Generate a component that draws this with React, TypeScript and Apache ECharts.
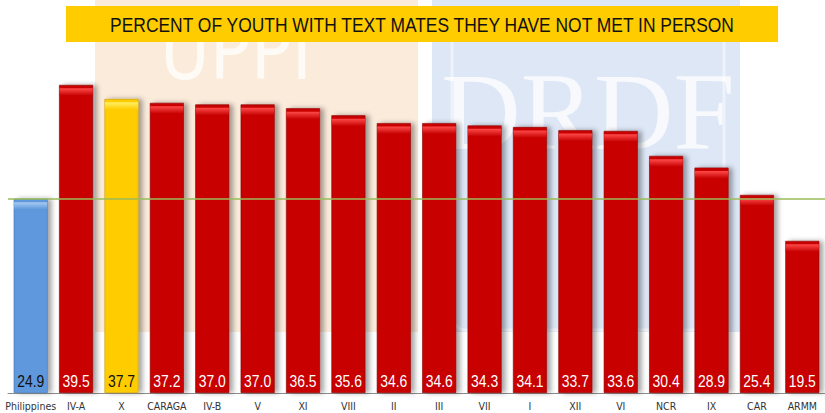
import React, { useEffect, useRef } from "react";
import * as echarts from "echarts";

const categories = ["Philippines", "IV-A", "X", "CARAGA", "IV-B", "V", "XI", "VIII", "II", "III", "VII", "I", "XII", "VI", "NCR", "IX", "CAR", "ARMM"];
const values = [24.9, 39.5, 37.7, 37.2, 37.0, 37.0, 36.5, 35.6, 34.6, 34.6, 34.3, 34.1, 33.7, 33.6, 30.4, 28.9, 25.4, 19.5];
const nationalValue = 24.9;
const titleText = "PERCENT OF YOUTH WITH TEXT MATES THEY HAVE NOT MET IN PERSON";

const NARROW = "'Liberation Sans Narrow', 'Arial Narrow', 'DejaVu Sans Condensed', 'Liberation Sans', Arial, sans-serif";
const SANS = "'Liberation Sans', Arial, sans-serif";

function styleFor(cat: string) {
  if (cat === "Philippines") return { body: "#5E98DC", top: "#A9CBF2", text: "#111", edge: "#3E74B4" };
  if (cat === "X") return { body: "#FFCC00", top: "#FFF066", text: "#111", edge: "#C89B00" };
  return { body: "#C80404", top: "#FF4A4A", text: "#ffffff", edge: "#8A0000" };
}

export default function App() {
  const ref = useRef<HTMLDivElement>(null);
  useEffect(() => {
    if (!ref.current) return;
    const chart = echarts.init(ref.current, null, { renderer: "svg" });
    const barData = values.map((v, i) => {
      const s = styleFor(categories[i]);
      return {
        value: v,
        itemStyle: {
          color: s.body,
          borderColor: s.edge,
          borderWidth: 0.6,
          shadowColor: "rgba(0,0,0,0.35)",
          shadowBlur: 5,
          shadowOffsetX: 4,
          shadowOffsetY: 0,
        },
      };
    });
    const bevelData = values.map((v, i) => {
      const s = styleFor(categories[i]);
      return {
        value: v,
        itemStyle: {
          color: new echarts.graphic.LinearGradient(0, 0, 0, 1, [
            { offset: 0, color: s.top },
            { offset: 1, color: s.body },
          ]),
        },
      };
    });
    const labelData = values.map((v, i) => [i, v]);
    chart.setOption({
      animation: false,
      backgroundColor: "#ffffff",
      grid: { left: 8, right: 0, top: 81, bottom: 20, containLabel: false },
      graphic: [
        { type: "rect", z: -10, shape: { x: 95, y: 0, width: 323, height: 332 }, style: { fill: "#FBEBDB" }, silent: true },
        { type: "rect", z: -10, shape: { x: 432, y: 0, width: 308, height: 332 }, style: { fill: "#DDE7F6" }, silent: true },
        { type: "rect", z: -9, shape: { x: 452, y: 8, width: 272, height: 322, r: 14 }, style: { fill: "none", stroke: "rgba(255,255,255,0.5)", lineWidth: 3 }, silent: true },
        { type: "text", z: -9, x: 236, y: 52, scaleX: 0.85, style: { text: "UPPI", fill: "rgba(255,255,255,0.75)", font: "80px 'DejaVu Sans', sans-serif", align: "center", verticalAlign: "middle" }, silent: true },
        { type: "text", z: -9, x: 588, y: 112, style: { text: "DRDF", fill: "rgba(255,255,255,0.75)", font: "110px 'Liberation Serif', serif", align: "center", verticalAlign: "middle" }, silent: true },
        { type: "rect", z: 100, shape: { x: 66, y: 6, width: 712, height: 36 }, style: { fill: "#FFCC00" }, silent: true },
        { type: "text", z: 101, x: 422, y: 25, scaleX: 0.83, style: { text: titleText, fill: "#111", font: `21px ${SANS}`, align: "center", verticalAlign: "middle" }, silent: true },
      ],
      xAxis: {
        type: "category",
        data: categories,
        axisLine: { lineStyle: { color: "#8c8c8c", width: 1 } },
        axisTick: { show: false },
        axisLabel: { color: "#333", fontFamily: NARROW, fontSize: 10.5, margin: 7, interval: 0 },
      },
      yAxis: { type: "value", min: 0, max: 40, show: false, splitLine: { show: false } },
      series: [
        {
          type: "bar",
          data: barData,
          barWidth: 34,
          z: 2,
          markLine: {
            silent: true,
            symbol: "none",
            label: { show: false },
            lineStyle: { color: "#9BBB59", width: 1.5, type: "solid" },
            data: [{ yAxis: nationalValue }],
            z: 5,
          },
        },
        {
          type: "pictorialBar",
          data: bevelData,
          symbol: "rect",
          symbolSize: [33, 7],
          symbolPosition: "end",
          symbolOffset: [0, "50%"],
          barGap: "-100%",
          z: 3,
          silent: true,
        },
        {
          type: "custom",
          data: labelData,
          encode: { x: 0, y: 1 },
          z: 10,
          silent: true,
          renderItem: (params: any, api: any) => {
            const idx = api.value(0);
            const v = api.value(1);
            const pt = api.coord([idx, 0]);
            const s = styleFor(categories[idx]);
            return {
              type: "text",
              x: pt[0],
              y: pt[1] - 4,
              scaleX: 0.82,
              style: {
                text: Number(v).toFixed(1),
                fill: s.text,
                font: `17px ${SANS}`,
                align: "center",
                verticalAlign: "bottom",
              },
            };
          },
        },
      ],
    });
    return () => chart.dispose();
  }, []);
  return <div ref={ref} style={{ width: 825, height: 413, position: "absolute", left: 0, top: 0 }} />;
}
